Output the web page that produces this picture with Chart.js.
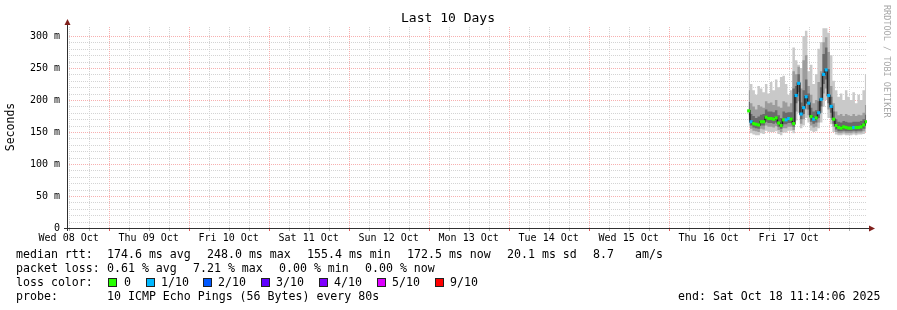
<!DOCTYPE html>
<html>
<head>
<meta charset="utf-8">
<script src="https://cdn.jsdelivr.net/npm/chart.js@4.4.1/dist/chart.umd.min.js"></script>
<style>
  html, body { margin: 0; padding: 0; background: #fff; }
  #wrap { width: 897px; height: 310px; }
</style>
</head>
<body>
<div id="wrap"><canvas id="smoke" width="897" height="310"></canvas></div>
<script>
// hours since Wed 08 Oct 00:00
const hours = [216.00, 216.75, 217.50, 218.25, 219.00, 219.75, 220.50, 221.25, 222.00, 222.75,
  223.50, 224.25, 225.00, 225.75, 226.50, 227.25, 228.00, 228.75, 229.50, 230.25,
  231.00, 231.75, 232.50, 233.25, 234.00, 234.75, 235.50, 236.25, 237.00, 237.75,
  238.50, 239.25, 240.00, 240.75, 241.50, 242.25, 243.00, 243.75, 244.50, 245.25,
  246.00, 246.75, 247.50, 248.25, 249.00, 249.75, 250.50, 251.25];

// rtt in ms
const medianRtt = [183, 166, 163, 162, 161, 166, 166, 173, 171, 171, 170, 172, 164, 160, 169, 169, 171, 170, 163, 207,
  226, 178, 188, 205, 195, 174, 170, 172, 180, 201, 240, 247, 207, 190, 170, 160, 157, 156, 158, 157,
  156, 156, 157, 157, 157, 158, 161, 166];
const maxRtt = [275, 225, 215, 208, 222, 218, 212, 225, 210, 228, 215, 232, 220, 236, 238, 225, 208, 215, 282, 262,
  255, 250, 300, 308, 245, 255, 225, 240, 280, 290, 312, 312, 305, 270, 230, 215, 205, 210, 200, 215,
  205, 200, 212, 195, 208, 200, 215, 240];
const hi2Rtt = [215, 195, 190, 185, 192, 190, 188, 198, 195, 196, 192, 200, 190, 188, 198, 196, 190, 195, 245, 240,
  252, 218, 262, 270, 222, 208, 195, 200, 228, 245, 290, 298, 275, 222, 195, 182, 176, 178, 175, 178,
  176, 175, 178, 175, 177, 176, 180, 192];
const hi3Rtt = [197, 178, 175, 172, 174, 177, 178, 185, 182, 182, 181, 184, 176, 172, 182, 180, 181, 181, 218, 222,
  240, 196, 215, 232, 210, 188, 182, 184, 198, 220, 272, 282, 248, 205, 182, 170, 166, 165, 167, 166,
  165, 165, 166, 166, 166, 167, 170, 177];
const lo3Rtt = [176, 160, 157, 156, 155, 160, 160, 166, 164, 164, 163, 165, 158, 155, 162, 162, 164, 164, 158, 195,
  212, 170, 178, 195, 185, 166, 163, 165, 172, 190, 225, 232, 195, 180, 163, 154, 151, 151, 152, 151,
  151, 151, 152, 151, 152, 152, 155, 160];
const lo2Rtt = [168, 155, 152, 151, 150, 155, 154, 160, 158, 158, 157, 159, 153, 150, 156, 156, 158, 158, 153, 182,
  198, 163, 170, 185, 176, 160, 157, 158, 165, 180, 210, 218, 185, 172, 158, 150, 148, 148, 149, 148,
  148, 148, 149, 148, 149, 149, 151, 155];
const minRtt = [158, 148, 146, 145, 145, 148, 147, 152, 150, 150, 150, 151, 147, 145, 149, 149, 152, 152, 148, 168,
  180, 156, 160, 172, 165, 152, 150, 151, 156, 165, 190, 200, 172, 162, 150, 146, 145, 145, 146, 145,
  145, 145, 146, 145, 146, 146, 147, 150];
// index into lossColors
const lossIdx = [0, 1, 0, 0, 0, 0, 0, 0, 0, 0, 0, 0, 0, 0, 0, 1, 1, 0, 0, 1,
  1, 1, 1, 1, 1, 0, 1, 0, 1, 1, 1, 1, 1, 1, 0, 0, 0, 0, 0, 0,
  0, 0, 1, 0, 0, 0, 0, 0];

const lossLabels = ['0', '1/10', '2/10', '3/10', '4/10', '5/10', '9/10'];
const lossColors = ['#26ff00', '#00b8ff', '#0059ff', '#5e00ff', '#7e00ff', '#dd00ff', '#ff0000'];

const dayLabels = ['Wed 08 Oct', 'Thu 09 Oct', 'Fri 10 Oct', 'Sat 11 Oct', 'Sun 12 Oct',
  'Mon 13 Oct', 'Tue 14 Oct', 'Wed 15 Oct', 'Thu 16 Oct', 'Fri 17 Oct'];

const rttStats = ['174.6 ms avg', '248.0 ms max', '155.4 ms min', '172.5 ms now', '20.1 ms sd', '8.7', 'am/s'];
const lossStats = ['0.61 % avg', '7.21 % max', '0.00 % min', '0.00 % now'];
const probeText = '10 ICMP Echo Pings (56 Bytes) every 80s';
const endText = 'end: Sat Oct 18 11:14:06 2025';

const MONO = "'DejaVu Sans Mono', monospace";
const majorGrid = '#f7b0b0';
const minorGrid = '#d4d4d4';

const toPoints = (vals) => vals.map((v, i) => ({ x: hours[i], y: v }));

const band = (vals, order, fillTarget, color) => ({
  data: toPoints(vals),
  order,
  stepped: 'middle',
  borderWidth: 0,
  borderColor: 'transparent',
  backgroundColor: color,
  pointRadius: 0,
  fill: fillTarget === null ? false : fillTarget,
});

const isMajor = (scale, v) => (scale.axis === 'x' ? v % 24 === 0 : v % 50 === 0 && v !== 0);

// rrdtool style dotted grid, drawn under the data
const rrdGrid = {
  id: 'rrdGrid',
  beforeDatasetsDraw: (chart) => {
    const ctx = chart.ctx;
    const { left, right, top, bottom } = chart.chartArea;
    const xs = chart.scales.x;
    const ys = chart.scales.y;
    ctx.save();
    ctx.lineWidth = 1;
    ctx.setLineDash([1, 1]);
    [false, true].forEach((major) => {
      ctx.strokeStyle = major ? majorGrid : minorGrid;
      ctx.beginPath();
      xs.ticks.forEach((t) => {
        if (isMajor(xs, t.value) !== major) return;
        const px = Math.round(xs.getPixelForValue(t.value)) + 0.5;
        ctx.moveTo(px, bottom);
        ctx.lineTo(px, top);
      });
      ys.ticks.forEach((t) => {
        if (t.value === 0 || isMajor(ys, t.value) !== major) return;
        const py = Math.round(ys.getPixelForValue(t.value)) + 0.5;
        ctx.moveTo(left, py);
        ctx.lineTo(right, py);
      });
      ctx.stroke();
    });
    ctx.restore();
  },
};

const rrdFrame = {
  id: 'rrdFrame',
  afterDraw: (chart) => {
    const ctx = chart.ctx;
    const { left, right, top, bottom } = chart.chartArea;
    const xs = chart.scales.x;
    ctx.save();
    // small tick marks under the x axis
    xs.ticks.forEach((t) => {
      const px = Math.round(xs.getPixelForValue(t.value)) + 0.5;
      ctx.strokeStyle = isMajor(xs, t.value) ? '#e06060' : '#b0b0b0';
      ctx.beginPath();
      ctx.moveTo(px, bottom + 1);
      ctx.lineTo(px, bottom + 3);
      ctx.stroke();
    });
    // axes
    ctx.strokeStyle = '#303030';
    ctx.lineWidth = 1;
    ctx.beginPath();
    ctx.moveTo(left + 0.5, bottom + 3);
    ctx.lineTo(left + 0.5, top - 3);
    ctx.moveTo(left - 3, bottom + 0.5);
    ctx.lineTo(right + 3, bottom + 0.5);
    ctx.stroke();
    ctx.fillStyle = '#80201c';
    ctx.beginPath();
    ctx.moveTo(left + 0.5, top - 8);
    ctx.lineTo(left - 2.5, top - 2);
    ctx.lineTo(left + 3.5, top - 2);
    ctx.closePath();
    ctx.fill();
    ctx.beginPath();
    ctx.moveTo(right + 8, bottom + 0.5);
    ctx.lineTo(right + 2, bottom - 2.5);
    ctx.lineTo(right + 2, bottom + 3.5);
    ctx.closePath();
    ctx.fill();

    // title and axis title
    ctx.fillStyle = '#000';
    ctx.font = `13px ${MONO}`;
    ctx.textAlign = 'center';
    ctx.textBaseline = 'middle';
    ctx.fillText('Last 10 Days', 448, 19);
    ctx.save();
    ctx.translate(11, 127);
    ctx.rotate(-Math.PI / 2);
    ctx.font = `11.5px ${MONO}`;
    ctx.fillText('Seconds', 0, 0);
    ctx.restore();

    // watermark
    ctx.save();
    ctx.translate(886, 5);
    ctx.rotate(Math.PI / 2);
    ctx.textAlign = 'left';
    ctx.fillStyle = '#a8a8a8';
    ctx.font = `8.5px ${MONO}`;
    ctx.fillText('RRDTOOL / TOBI OETIKER', 0, 0);
    ctx.restore();

    // legend
    ctx.textAlign = 'left';
    ctx.font = `11.6px ${MONO}`;
    ctx.fillStyle = '#000';
    const rows = [254.5, 268.5, 282.5, 296.5];
    ctx.fillText('median rtt:', 16, rows[0]);
    [107, 207, 307, 407, 507, 593, 635].forEach((x, i) => ctx.fillText(rttStats[i], x, rows[0]));
    ctx.fillText('packet loss:', 16, rows[1]);
    [107, 193, 279, 365].forEach((x, i) => ctx.fillText(lossStats[i], x, rows[1]));
    ctx.fillText('loss color:', 16, rows[2]);
    [108, 146, 203, 261, 319, 377, 435].forEach((x, i) => {
      ctx.fillStyle = lossColors[i];
      ctx.fillRect(x, rows[2] - 4.5, 9, 9);
      ctx.strokeStyle = '#202020';
      ctx.strokeRect(x + 0.5, rows[2] - 4, 8, 8);
      ctx.fillStyle = '#000';
      ctx.fillText(lossLabels[i], x + (i === 0 ? 16 : 15), rows[2]);
    });
    ctx.fillText('probe:', 16, rows[3]);
    ctx.fillText(probeText, 107, rows[3]);
    ctx.fillText(endText, 678, rows[3]);
    ctx.restore();
  },
};

new Chart(document.getElementById('smoke').getContext('2d'), {
  type: 'line',
  data: {
    datasets: [
      {
        data: toPoints(medianRtt),
        order: 0,
        stepped: 'middle',
        borderColor: '#222222',
        borderWidth: 1.5,
        pointStyle: 'rect',
        pointRadius: 2.2,
        pointBorderWidth: 0,
        pointBackgroundColor: (c) => lossColors[lossIdx[c.dataIndex]],
        fill: false,
      },
      band(hi3Rtt, 1, null, '#6a6a6a'),
      band(lo3Rtt, 1, 1, '#6a6a6a'),
      band(hi2Rtt, 2, null, '#9c9c9c'),
      band(lo2Rtt, 2, 3, '#9c9c9c'),
      band(maxRtt, 3, null, '#c9c9c9'),
      band(minRtt, 3, 5, '#c9c9c9'),
    ],
  },
  options: {
    responsive: false,
    animation: false,
    layout: { padding: { left: 0, top: 27, right: 30, bottom: 0 } },
    plugins: {
      legend: { display: false },
      tooltip: { enabled: false },
      title: { display: false },
    },
    scales: {
      x: {
        type: 'linear',
        min: 11.5,
        max: 251.5,
        afterBuildTicks: (scale) => {
          const ticks = [];
          for (let h = 12; h < 251.5; h += 6) ticks.push({ value: h });
          scale.ticks = ticks;
        },
        afterFit: (scale) => { scale.height = 82; },
        grid: { display: false, drawTicks: false },
        border: { display: false },
        ticks: {
          autoSkip: false,
          maxRotation: 0,
          padding: 4,
          color: '#000',
          font: { family: MONO, size: 10 },
          callback: (v) => (v % 24 === 12 ? dayLabels[(v - 12) / 24] : ''),
        },
      },
      y: {
        min: 0,
        max: 314,
        afterBuildTicks: (scale) => {
          scale.ticks = scale.ticks.filter((t) => t.value % 10 === 0);
        },
        afterFit: (scale) => { scale.width = 67; },
        grid: { display: false, drawTicks: false },
        border: { display: false },
        ticks: {
          stepSize: 10,
          autoSkip: false,
          padding: 7,
          color: '#000',
          font: { family: MONO, size: 10 },
          callback: (v) => (v % 50 === 0 ? (v === 0 ? '0' : `${v} m`) : ''),
        },
      },
    },
  },
  plugins: [rrdGrid, rrdFrame],
});
</script>
</body>
</html>
